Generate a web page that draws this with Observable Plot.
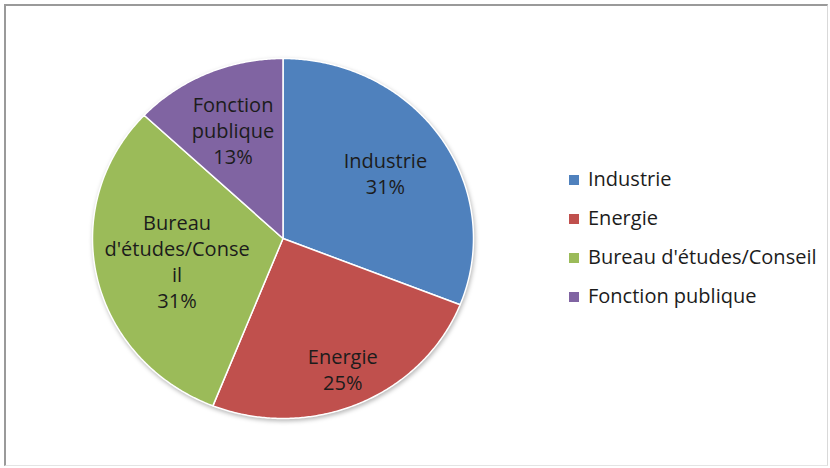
<!DOCTYPE html>
<html>
<head>
<meta charset="utf-8">
<script src="https://cdn.jsdelivr.net/npm/d3@7"></script>
<script src="https://cdn.jsdelivr.net/npm/@observablehq/plot@0.6"></script>
<style>
  body { margin: 0; background: #fff; font-family: "Open Sans", Lato, sans-serif; }
  #wrap { position: relative; width: 830px; height: 468px; overflow: hidden; }
  #frame { position: absolute; left: 4px; top: 4px; width: 824px; height: 462px; box-sizing: border-box;
           border-top: 2px solid #9a9a9a; border-left: 2px solid #9a9a9a;
           border-right: 1px solid #d9d9d9; border-bottom: 1px solid #e4e4e4; pointer-events: none; }
  #chart { position: absolute; left: 0; top: 0; }
  #chart g[aria-label="line"] { filter: drop-shadow(1px 2px 2px rgba(0,0,0,0.28)); }
  #legend { position: absolute; left: 569px; top: 159px; font-size: 20px; color: #1c1c1c; }
  #legend .row { height: 39px; line-height: 39px; white-space: nowrap; }
  #legend .sw { display: inline-block; width: 10px; height: 10px; margin-right: 9px; vertical-align: middle; position: relative; top: -1px; }
</style>
</head>
<body>
<div id="wrap">
  <div id="chart"></div>
  <div id="legend"></div>
  <div id="frame"></div>
</div>
<script>
// ---- data ----
const categories = ["Industrie", "Energie", "Bureau d'études/Conseil", "Fonction publique"];
const shares = [31, 25, 31, 13];
const colors = ["#4F81BD", "#C0504D", "#9BBB59", "#8064A2"];
const labelNames = ["Industrie", "Energie", "Bureau\nd'études/Conse\nil", "Fonction\npublique"];

// ---- layout (label distance from centre, as a fraction of radius) ----
const labelRadius = [0.65, 0.79, 0.57, 0.66];

const arcs = d3.pie().sort(null).value(d => d)(shares);

const slicePoints = [];
arcs.forEach((a, i) => {
  const cat = categories[i];
  const n = Math.ceil((a.endAngle - a.startAngle) / (Math.PI / 360));
  slicePoints.push({cat, x: 0, y: 0});
  for (let k = 0; k <= n; k++) {
    const t = a.startAngle + (a.endAngle - a.startAngle) * k / n;
    slicePoints.push({cat, x: Math.sin(t), y: Math.cos(t)});
  }
  slicePoints.push({cat, x: 0, y: 0});
});

const labels = arcs.map((a, i) => {
  const mid = (a.startAngle + a.endAngle) / 2;
  return {
    x: labelRadius[i] * Math.sin(mid),
    y: labelRadius[i] * Math.cos(mid),
    text: labelNames[i] + "\n" + shares[i] + "%"
  };
});

const chart = Plot.plot({
  width: 830,
  height: 468,
  marginLeft: 92,
  marginRight: 357,
  marginTop: 58,
  marginBottom: 50,
  x: {domain: [-1, 1], axis: null},
  y: {domain: [-1, 1], axis: null},
  color: {domain: categories, range: colors},
  style: {background: "transparent", fontFamily: "'Open Sans', Lato, sans-serif"},
  marks: [
    Plot.line(slicePoints, {x: "x", y: "y", z: "cat", fill: "cat", stroke: "white", strokeWidth: 1.5, curve: "linear"}),
    Plot.text(labels, {x: "x", y: "y", text: "text", fontSize: 20, lineHeight: 1.3, fill: "#1c1c1c", textAnchor: "middle"})
  ]
});
document.getElementById("chart").appendChild(chart);

const legend = document.getElementById("legend");
categories.forEach((c, i) => {
  const row = document.createElement("div");
  row.className = "row";
  const sw = document.createElement("span");
  sw.className = "sw";
  sw.style.background = colors[i];
  row.appendChild(sw);
  row.appendChild(document.createTextNode(c));
  legend.appendChild(row);
});
</script>
</body>
</html>
